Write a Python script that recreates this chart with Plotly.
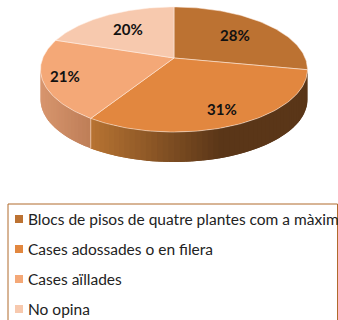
import numpy as np
import plotly.graph_objects as go

categories = ["Blocs de pisos de quatre plantes com a màxim",
              "Cases adossades o en filera", "Cases aïllades", "No opina"]
values = [28, 31, 21, 20]
value_labels = ["28%", "31%", "21%", "20%"]
colors = ["#BC7232", "#E2873F", "#F4A877", "#F7C9AE"]
label_radius = [0.65, 0.80, 0.84, 0.66]
# side-wall shading, as (left colour, right colour) and the share of the wall the ramp covers
side_colors = [("#5A3618", "#5A3618"), ("#B87433", "#5A3618"), ("#D8966E", "#BE7E58"), ("#F7C9AE", "#F7C9AE")]
side_ramp = [1.0, 0.6, 1.0, 1.0]

CX, CY, A, B, K, DEPTH = 174.0, 58.0, 131.2, 60.4, 0.184, 30.0


def project(theta, r=1.0):
    u, v = r * np.sin(theta), r * np.cos(theta)
    w = 1 + K * v
    return CX + A * u / w, CY - B * v / w


def hex_rgb(c):
    return np.array([int(c[i:i + 2], 16) for i in (1, 3, 5)], float)


def mix(c1, c2, t):
    m = hex_rgb(c1) * (1 - t) + hex_rgb(c2) * t
    return "rgb(%d,%d,%d)" % tuple(m)


fractions = np.cumsum([0] + values) / sum(values)
angles = fractions * 2 * np.pi
hor_r, hor_l = np.arccos(-K), 2 * np.pi - np.arccos(-K)

fig = go.Figure()

# side wall strips, drawn with an overlap so no seams show
for i in range(len(values)):
    a0, a1 = max(angles[i], hor_r), min(angles[i + 1], hor_l)
    if a1 <= a0:
        continue
    edges = np.linspace(a0, a1, max(2, int((a1 - a0) / np.radians(2)) + 1))
    xa, _ = project(a0)
    xb, _ = project(a1)
    for e0, e1 in zip(edges[:-1], edges[1:]):
        th = np.linspace(e0, min(e1 + np.radians(2), a1), 4)
        x, y = project(th)
        px = np.concatenate([x, x[::-1]])
        py = np.concatenate([y, y[::-1] + DEPTH])
        xm = project((e0 + e1) / 2)[0]
        t = (xm - xb) / (xa - xb) / side_ramp[i] if xa != xb else 0
        col = mix(side_colors[i][0], side_colors[i][1], float(np.clip(t, 0, 1)))
        fig.add_trace(go.Scatter(x=px, y=py, mode="lines", fill="toself", fillcolor=col,
                                 line=dict(width=0), hoverinfo="skip"))

# separator on the wall
xs, ys = project(angles[2])
fig.add_trace(go.Scatter(x=[xs, xs], y=[ys, ys + DEPTH], mode="lines",
                         line=dict(color="rgba(240,200,170,0.8)", width=1), hoverinfo="skip"))

# top face
for i in range(len(values)):
    th = np.linspace(angles[i], angles[i + 1], 80)
    x, y = project(th)
    fig.add_trace(go.Scatter(x=np.r_[CX, x, CX], y=np.r_[CY, y, CY], mode="lines", fill="toself",
                             fillcolor=colors[i], line=dict(color="rgba(255,240,230,0.75)", width=0.7),
                             hoverinfo="skip"))

# value labels
for i, txt in enumerate(value_labels):
    mid = (angles[i] + angles[i + 1]) / 2
    x, y = project(mid, label_radius[i])
    fig.add_annotation(x=x, y=y, text="<b>%s</b>" % txt, showarrow=False,
                       font=dict(family="Lato", size=15, color="#111111"))

# legend
LEG_Y0, LEG_STEP = 219, 30
leg_y = [LEG_Y0 + i * LEG_STEP for i in range(len(categories))]
fig.add_trace(go.Scatter(x=[19] * len(categories), y=leg_y, mode="markers",
                         marker=dict(symbol="square", size=8, color=colors), hoverinfo="skip"))
for lab, y in zip(categories, leg_y):
    fig.add_annotation(x=25.5, y=y, text=lab, showarrow=False, xanchor="left",
                       font=dict(family="Lato", size=15.5, color="#222222"))
fig.add_shape(type="rect", x0=8, x1=337.5, y0=204, y1=330, line=dict(color="#B06A2C", width=1),
              fillcolor="rgba(0,0,0,0)", layer="below")

fig.update_layout(width=338, height=320, margin=dict(l=0, r=0, t=0, b=0), showlegend=False,
                  paper_bgcolor="white", plot_bgcolor="white",
                  xaxis=dict(range=[0, 338], visible=False, fixedrange=True),
                  yaxis=dict(range=[320, 0], visible=False, fixedrange=True))
fig.write_html("out.html", config={"displayModeBar": False},
               post_script="document.body.style.margin='0';document.documentElement.style.overflow='hidden';")
